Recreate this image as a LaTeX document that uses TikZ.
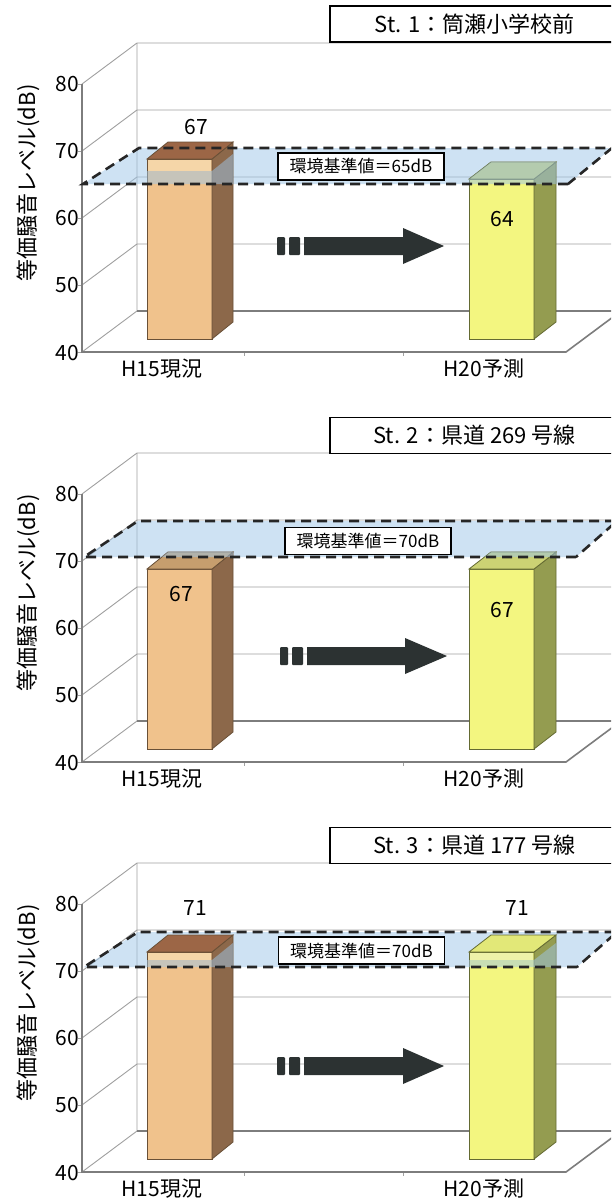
\documentclass[tikz,border=0pt]{standalone}
\usepackage{fontspec}
\setmainfont{Noto Sans CJK JP}
\usepackage{pgf}
\usepackage{tikz}
\usetikzlibrary{arrows}

\definecolor{wallgray}{RGB}{160,160,160}
\definecolor{axisgray}{RGB}{125,125,125}
\definecolor{planeblue}{RGB}{158,198,232}
\definecolor{tanfront}{RGB}{240,194,140}
\definecolor{tanband}{RGB}{245,214,168}
\definecolor{tanside}{RGB}{140,104,74}
\definecolor{tantop}{RGB}{198,158,110}
\definecolor{tanexc}{RGB}{156,102,70}
\definecolor{tanedge}{RGB}{105,80,55}
\definecolor{yelfront}{RGB}{243,246,128}
\definecolor{yelband}{RGB}{238,242,168}
\definecolor{yelside}{RGB}{148,156,80}
\definecolor{yeltop}{RGB}{204,210,116}
\definecolor{yelexc}{RGB}{226,232,120}
\definecolor{yeledge}{RGB}{100,106,50}
\definecolor{arrowdark}{RGB}{44,50,50}

\begin{document}
\begin{tikzpicture}[x=1pt,y=-1pt,
		wallgrid/.style={wallgray,line width=0.9pt},
		floorline/.style={axisgray,line width=1.6pt},
		stdplane/.style={fill=planeblue,fill opacity=0.5},
		planeedge/.style={black!85,line width=2.6pt,dash pattern=on 10pt off 6pt},
		tanbar/.style={draw=tanedge,line width=0.8pt},
		yelbar/.style={draw=yeledge,line width=0.8pt},
		ticklab/.style={anchor=east,inner sep=0pt,font=\fontsize{21}{21}\selectfont},
		barlab/.style={inner sep=0pt,font=\fontsize{21}{21}\selectfont},
		titlebox/.style={draw,line width=1.6pt,fill=white,minimum width=289pt,minimum height=36pt,inner sep=0pt,font=\fontsize{22}{22}\selectfont},
		stdbox/.style={draw,line width=1.6pt,fill=white,minimum width=166pt,minimum height=27pt,inner sep=0pt,font=\fontsize{17}{17}\selectfont},
		axislab/.style={rotate=90,inner sep=0pt,font=\fontsize{22}{22}\selectfont}]
	\useasboundingbox (0,0) rectangle (611,1202);
	\clip (0,0) rectangle (611,1202);
	\fill[white] (0,0) rectangle (611,1202);

	% ---- St. 1
	\begin{scope}
		\path (82,84) coordinate (f80);
		\path (82,151) coordinate (f70);
		\path (82,218) coordinate (f60);
		\path (82,285) coordinate (f50);
		\path (82,352) coordinate (f40);
		\path (137,43) coordinate (b80);
		\path (137,110) coordinate (b70);
		\path (137,177) coordinate (b60);
		\path (137,244) coordinate (b50);
		\path (137,311) coordinate (b40);
		\path (566,352) coordinate (fr40);
		\path (83,184) coordinate (pfl);
		\path (139,148) coordinate (pbl);
		\path (612,148) coordinate (pbr);
		\path (568,184) coordinate (pfr);

		\draw[wallgrid] (f80) -- (b80) -- (620,43);
		\draw[wallgrid] (f70) -- (b70) -- (620,110);
		\draw[wallgrid] (f60) -- (b60) -- (620,177);
		\draw[wallgrid] (f50) -- (b50) -- (620,244);
		\draw[wallgrid] (b80) -- (b40) (f40) -- (b40);
		\draw[wallgrid] (f80) -- ++(-4,0) (f70) -- ++(-4,0) (f60) -- ++(-4,0) (f50) -- ++(-4,0) (f40) -- ++(-4,0);
		\draw[wallgrid] (244,352) -- ++(0,4) (403,352) -- ++(0,4);
		\draw[floorline] (b40) -- (620,311);
		\draw[floorline] (f80) -- (f40) -- (fr40) -- (621,311);
		\fill[stdplane] (pfl) -- (pbl) -- (pbr) -- (pfr) -- cycle;

		% H15, 67 dB
		\filldraw[tanbar,fill=tanfront] (147,339) rectangle (212,159);
		\fill[tanband] (148,160) rectangle (211,171);
		\filldraw[tanbar,fill=tanside] (212,339) -- (233,322) -- (233,142) -- (212,159) -- cycle;
		\filldraw[tanbar,fill=tanexc] (147,159) -- (168,142) -- (233,142) -- (212,159) -- cycle;
		\begin{scope}
			\clip (147,339) -- (147,171) -- (212,171) -- (233,154) -- (233,322) -- (212,339) -- cycle;
			\fill[stdplane] (pfl) -- (pbl) -- (pbr) -- (pfr) -- cycle;
		\end{scope}
		% H20, 64 dB
		\filldraw[yelbar,fill=yelfront] (469,339) rectangle (534,179);
		\filldraw[yelbar,fill=yelside] (534,339) -- (556,322) -- (556,162) -- (534,179) -- cycle;
		\filldraw[yelbar,fill=yeltop] (469,179) -- (491,162) -- (556,162) -- (534,179) -- cycle;
		\begin{scope}
			\clip (469,339) -- (469,179) -- (491,162) -- (556,162) -- (556,322) -- (534,339) -- cycle;
			\fill[stdplane] (pfl) -- (pbl) -- (pbr) -- (pfr) -- cycle;
		\end{scope}

		\fill[arrowdark,rounded corners=1pt] (277,237) rectangle (285,255);
		\fill[arrowdark,rounded corners=1pt] (289,237) rectangle (300,255);
		\fill[arrowdark] (304,237) -- (403,237) -- (403,228) -- (444,246) -- (403,264) -- (403,255) -- (304,255) -- cycle;

		\draw[planeedge] (pfr) -- (pfl) -- (pbl) -- (pbr) -- (pfr);

		\node (title1) [titlebox] at (474.5,24) {St. 1：筒瀬小学校前};
		\node (std1) [stdbox] at (361,166.5) {環境基準値＝65dB};
		\node (t80a) [ticklab] at (79,84) {80};
		\node (t70a) [ticklab] at (79,151) {70};
		\node (t60a) [ticklab] at (79,218) {60};
		\node (t50a) [ticklab] at (79,285) {50};
		\node (t40a) [ticklab] at (79,353) {40};
		\node (cat1a) [barlab] at (162,369) {H15現況};
		\node (cat1b) [barlab] at (484,369) {H20予測};
		\node (val1a) [barlab] at (196,127) {67};
		\node (val1b) [barlab] at (502,219) {64};
		\node (ylab1) [axislab] at (28,183) {等価騒音レベル(dB)};
	\end{scope}

	% ---- St. 2
	\begin{scope}[shift={(0,410)}]
		\path (82,84) coordinate (f80);
		\path (82,151) coordinate (f70);
		\path (82,218) coordinate (f60);
		\path (82,285) coordinate (f50);
		\path (82,352) coordinate (f40);
		\path (137,43) coordinate (b80);
		\path (137,110) coordinate (b70);
		\path (137,177) coordinate (b60);
		\path (137,244) coordinate (b50);
		\path (137,311) coordinate (b40);
		\path (566,352) coordinate (fr40);
		\path (84,147) coordinate (pfl);
		\path (138,111) coordinate (pbl);
		\path (617,111) coordinate (pbr);
		\path (576,147) coordinate (pfr);

		\draw[wallgrid] (f80) -- (b80) -- (620,43);
		\draw[wallgrid] (f70) -- (b70) -- (620,110);
		\draw[wallgrid] (f60) -- (b60) -- (620,177);
		\draw[wallgrid] (f50) -- (b50) -- (620,244);
		\draw[wallgrid] (b80) -- (b40) (f40) -- (b40);
		\draw[wallgrid] (f80) -- ++(-4,0) (f70) -- ++(-4,0) (f60) -- ++(-4,0) (f50) -- ++(-4,0) (f40) -- ++(-4,0);
		\draw[wallgrid] (244,352) -- ++(0,4) (403,352) -- ++(0,4);
		\draw[floorline] (b40) -- (620,311);
		\draw[floorline] (f80) -- (f40) -- (fr40) -- (621,311);
		\fill[stdplane] (pfl) -- (pbl) -- (pbr) -- (pfr) -- cycle;

		% H15, 67 dB
		\filldraw[tanbar,fill=tanfront] (147,339) rectangle (212,159);
		\filldraw[tanbar,fill=tanside] (212,339) -- (233,322) -- (233,142) -- (212,159) -- cycle;
		\filldraw[tanbar,fill=tantop] (147,159) -- (168,142) -- (233,142) -- (212,159) -- cycle;
		\begin{scope}
			\clip (147,339) -- (147,159) -- (168,142) -- (233,142) -- (233,322) -- (212,339) -- cycle;
			\fill[stdplane] (pfl) -- (pbl) -- (pbr) -- (pfr) -- cycle;
		\end{scope}
		% H20, 67 dB
		\filldraw[yelbar,fill=yelfront] (469,339) rectangle (534,159);
		\filldraw[yelbar,fill=yelside] (534,339) -- (556,322) -- (556,142) -- (534,159) -- cycle;
		\filldraw[yelbar,fill=yeltop] (469,159) -- (491,142) -- (556,142) -- (534,159) -- cycle;
		\begin{scope}
			\clip (469,339) -- (469,159) -- (491,142) -- (556,142) -- (556,322) -- (534,339) -- cycle;
			\fill[stdplane] (pfl) -- (pbl) -- (pbr) -- (pfr) -- cycle;
		\end{scope}

		\fill[arrowdark,rounded corners=1pt] (280,237) rectangle (288,255);
		\fill[arrowdark,rounded corners=1pt] (292,237) rectangle (303,255);
		\fill[arrowdark] (307,237) -- (405,237) -- (405,228) -- (447,246) -- (405,264) -- (405,255) -- (307,255) -- cycle;

		\draw[planeedge] (pfr) -- (pfl) -- (pbl) -- (pbr) -- (pfr);

		\node (title2) [titlebox] at (474.5,25.5) {St. 2：県道 269 号線};
		\node (std2) [stdbox] at (368,131) {環境基準値＝70dB};
		\node (t80b) [ticklab] at (79,84) {80};
		\node (t70b) [ticklab] at (79,151) {70};
		\node (t60b) [ticklab] at (79,218) {60};
		\node (t50b) [ticklab] at (79,285) {50};
		\node (t40b) [ticklab] at (79,353) {40};
		\node (cat2a) [barlab] at (162,369) {H15現況};
		\node (cat2b) [barlab] at (484,369) {H20予測};
		\node (val2a) [barlab] at (181,184) {67};
		\node (val2b) [barlab] at (502,200) {67};
		\node (ylab2) [axislab] at (28,183) {等価騒音レベル(dB)};
	\end{scope}

	% ---- St. 3
	\begin{scope}[shift={(0,820)}]
		\path (82,84) coordinate (f80);
		\path (82,151) coordinate (f70);
		\path (82,218) coordinate (f60);
		\path (82,285) coordinate (f50);
		\path (82,352) coordinate (f40);
		\path (137,43) coordinate (b80);
		\path (137,110) coordinate (b70);
		\path (137,177) coordinate (b60);
		\path (137,244) coordinate (b50);
		\path (137,311) coordinate (b40);
		\path (566,352) coordinate (fr40);
		\path (84,147) coordinate (pfl);
		\path (138,112) coordinate (pbl);
		\path (617,112) coordinate (pbr);
		\path (577,147) coordinate (pfr);

		\draw[wallgrid] (f80) -- (b80) -- (620,43);
		\draw[wallgrid] (f70) -- (b70) -- (620,110);
		\draw[wallgrid] (f60) -- (b60) -- (620,177);
		\draw[wallgrid] (f50) -- (b50) -- (620,244);
		\draw[wallgrid] (b80) -- (b40) (f40) -- (b40);
		\draw[wallgrid] (f80) -- ++(-4,0) (f70) -- ++(-4,0) (f60) -- ++(-4,0) (f50) -- ++(-4,0) (f40) -- ++(-4,0);
		\draw[wallgrid] (244,352) -- ++(0,4) (403,352) -- ++(0,4);
		\draw[floorline] (b40) -- (620,311);
		\draw[floorline] (f80) -- (f40) -- (fr40) -- (621,311);
		\fill[stdplane] (pfl) -- (pbl) -- (pbr) -- (pfr) -- cycle;

		% H15, 71 dB
		\filldraw[tanbar,fill=tanfront] (147,339) rectangle (212,132);
		\fill[tanband] (148,133) rectangle (211,140);
		\filldraw[tanbar,fill=tanside] (212,339) -- (233,322) -- (233,115) -- (212,132) -- cycle;
		\filldraw[tanbar,fill=tanexc] (147,132) -- (168,115) -- (233,115) -- (212,132) -- cycle;
		\begin{scope}
			\clip (147,339) -- (147,140) -- (212,140) -- (233,123) -- (233,322) -- (212,339) -- cycle;
			\fill[stdplane] (pfl) -- (pbl) -- (pbr) -- (pfr) -- cycle;
		\end{scope}
		% H20, 71 dB
		\filldraw[yelbar,fill=yelfront] (469,339) rectangle (534,132);
		\fill[yelband] (470,133) rectangle (533,140);
		\filldraw[yelbar,fill=yelside] (534,339) -- (556,322) -- (556,115) -- (534,132) -- cycle;
		\filldraw[yelbar,fill=yelexc] (469,132) -- (491,115) -- (556,115) -- (534,132) -- cycle;
		\begin{scope}
			\clip (469,339) -- (469,140) -- (534,140) -- (556,123) -- (556,322) -- (534,339) -- cycle;
			\fill[stdplane] (pfl) -- (pbl) -- (pbr) -- (pfr) -- cycle;
		\end{scope}

		\fill[arrowdark,rounded corners=1pt] (277,237) rectangle (285,255);
		\fill[arrowdark,rounded corners=1pt] (289,237) rectangle (300,255);
		\fill[arrowdark] (304,237) -- (403,237) -- (403,228) -- (444,246) -- (403,264) -- (403,255) -- (304,255) -- cycle;

		\draw[planeedge] (pfr) -- (pfl) -- (pbl) -- (pbr) -- (pfr);

		\node (title3) [titlebox] at (474.5,25.5) {St. 3：県道 177 号線};
		\node (std3) [stdbox] at (361.5,130.5) {環境基準値＝70dB};
		\node (t80c) [ticklab] at (79,84) {80};
		\node (t70c) [ticklab] at (79,151) {70};
		\node (t60c) [ticklab] at (79,218) {60};
		\node (t50c) [ticklab] at (79,285) {50};
		\node (t40c) [ticklab] at (79,353) {40};
		\node (cat3a) [barlab] at (162,369) {H15現況};
		\node (cat3b) [barlab] at (484,369) {H20予測};
		\node (val3a) [barlab] at (195,88) {71};
		\node (val3b) [barlab] at (517,88) {71};
		\node (ylab3) [axislab] at (28,183) {等価騒音レベル(dB)};
	\end{scope}
\end{tikzpicture}
\end{document}
